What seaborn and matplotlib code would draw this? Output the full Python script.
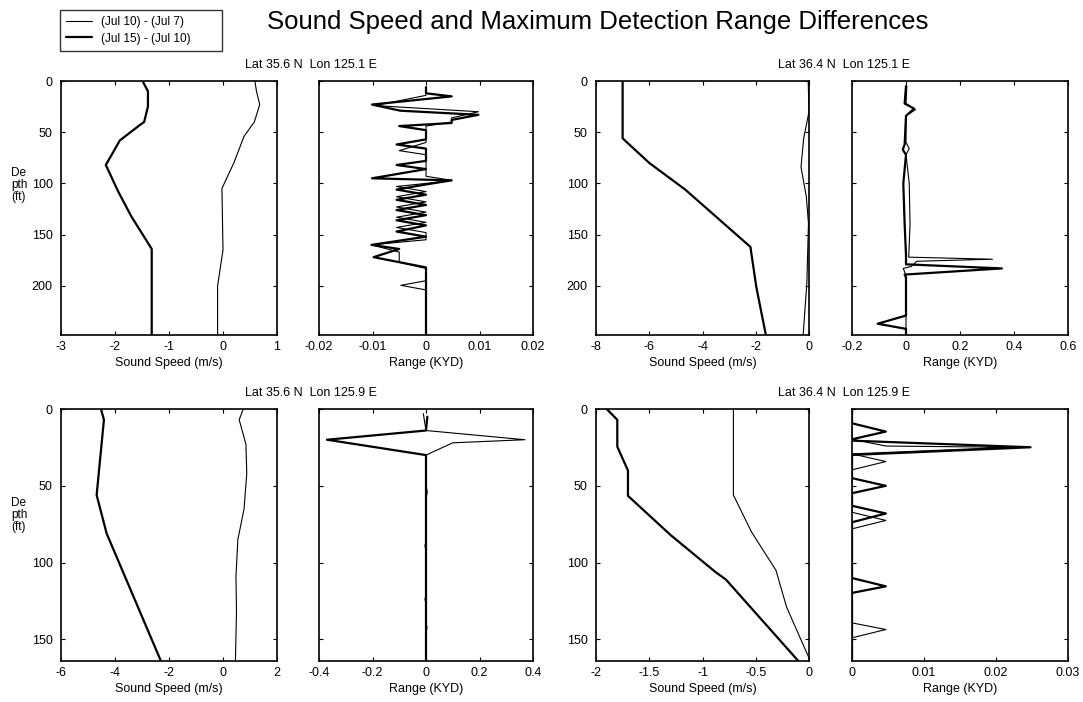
import numpy as np
import pandas as pd
import matplotlib.pyplot as plt
import seaborn as sns

# ---- values ----
label_thin = '(Jul 10) - (Jul 7)'
label_thick = '(Jul 15) - (Jul 10)'
station_titles = ['Lat 35.6 N  Lon 125.1 E', 'Lat 36.4 N  Lon 125.1 E',
                  'Lat 35.6 N  Lon 125.9 E', 'Lat 36.4 N  Lon 125.9 E']

# station 1 (Lat 35.6 N Lon 125.1 E) - sound speed difference (m/s)
s1_ss_thin_depth = [0, 10, 23, 40, 54, 80, 105, 165, 200, 248]
s1_ss_thin_val = [0.59, 0.62, 0.68, 0.58, 0.39, 0.2, -0.02, 0.0, -0.1, -0.1]
s1_ss_thick_depth = [0, 10, 25, 40, 43, 58, 82, 108, 132, 164, 248]
s1_ss_thick_val = [-1.49, -1.39, -1.39, -1.46, -1.54, -1.91, -2.17, -1.94, -1.70, -1.32, -1.32]
# station 1 - detection range difference (KYD)
s1_rng_thin_depth = [6, 14, 24, 30, 36, 40, 44, 60, 68, 72, 93, 97, 100, 103, 108, 113, 118,
                     123, 128, 133, 138, 143, 148, 155, 160, 167, 177, 183, 195, 199.5, 204, 248]
s1_rng_thin_val = [0.0, 0.0, -0.0095, 0.0098, 0.0048, 0.0048, 0.0, 0.0, -0.005, 0.0, 0.0, 0.0048, 0.0,
                   -0.0055, 0.0, -0.0055, 0.0, -0.0055, 0.0, -0.0055, 0.0, -0.0055, 0.0, 0.0,
                   -0.0102, -0.005, -0.005, 0.0, 0.0, -0.0047, 0.0, 0.0]
s1_rng_thick_depth = [6, 12, 15, 23, 29, 33, 38, 41, 44, 48, 57, 62, 66, 78, 82, 86, 95, 97, 101,
                      106, 111, 116, 121, 126, 131, 136, 141, 147, 152, 160, 164, 172, 182, 248]
s1_rng_thick_val = [0.0, 0.0, 0.0048, -0.0101, -0.0048, 0.0098, 0.0048, 0.0048, -0.005, 0.0, 0.0,
                    -0.0055, 0.0, 0.0, -0.0055, 0.0, -0.0101, 0.0048, 0.0, -0.0055, 0.0, -0.0055,
                    0.0, -0.0055, 0.0, -0.0055, 0.0, -0.0055, 0.0, -0.0102, -0.005, -0.0098, 0.0, 0.0]

# station 2 (Lat 36.4 N Lon 125.1 E)
s2_ss_thin_depth = [0, 30, 56, 84, 113, 139, 197, 248]
s2_ss_thin_val = [-0.03, 0.0, -0.2, -0.3, -0.1, -0.02, -0.08, -0.22]
s2_ss_thick_depth = [0, 56, 80, 106, 162, 201, 248]
s2_ss_thick_val = [-7.0, -7.0, -6.0, -4.65, -2.2, -1.98, -1.62]
s2_rng_thin_depth = [5, 22, 28, 34, 60, 66, 72, 100, 140, 172, 174, 176, 181, 183, 190, 248]
s2_rng_thin_val = [0.003, 0.0, 0.035, 0.0, 0.0, 0.012, 0.0, 0.012, 0.015, 0.01, 0.32, 0.04,
                   0.02, -0.01, 0.0, 0.0]
s2_rng_thick_depth = [5, 22, 27, 34, 62, 67, 72, 100, 140, 170, 179, 183, 189, 192, 229, 237, 242, 248]
s2_rng_thick_val = [0.0, -0.005, 0.03, 0.0, -0.005, -0.012, 0.0, -0.01, -0.005, 0.0, 0.0, 0.355,
                    -0.005, 0.0, 0.0, -0.105, 0.0, 0.0]

# station 3 (Lat 35.6 N Lon 125.9 E)
s3_ss_thin_depth = [0, 7, 23, 42, 65, 85, 109, 132, 164]
s3_ss_thin_val = [0.75, 0.6, 0.85, 0.88, 0.78, 0.55, 0.48, 0.5, 0.46]
s3_ss_thick_depth = [0, 7, 56, 81, 164]
s3_ss_thick_val = [-4.52, -4.41, -4.68, -4.31, -2.3]
s3_rng_thin_depth = [3, 14, 20, 22, 30, 50, 54, 58, 86, 89, 92, 121, 124, 127, 140, 142, 145, 164]
s3_rng_thin_val = [-0.01, 0.0, 0.37, 0.1, 0.0, 0.0, 0.005, 0.0, 0.0, -0.004, 0.0, 0.0, -0.004,
                   0.0, 0.0, 0.004, 0.0, 0.0]
s3_rng_thick_depth = [5, 14, 20, 30, 164]
s3_rng_thick_val = [0.005, 0.0, -0.37, 0.0, 0.0]

# station 4 (Lat 36.4 N Lon 125.9 E)
s4_ss_thin_depth = [0, 56, 80, 105, 129, 162, 164]
s4_ss_thin_val = [-0.71, -0.71, -0.54, -0.31, -0.21, 0.0, 0.0]
s4_ss_thick_depth = [0, 7, 24.5, 40, 56.5, 82, 106, 111, 164]
s4_ss_thick_val = [-1.9, -1.8, -1.8, -1.7, -1.7, -1.3, -0.88, -0.78, -0.1]
s4_rng_thin_depth = [0, 19.7, 24.1, 24.9, 29.2, 34.2, 39.6, 67.2, 72.5, 78, 139.2, 143.5, 148.9, 164]
s4_rng_thin_val = [0.0, 0.0, 0.0047, 0.022, 0.0, 0.0047, 0.0, 0.0, 0.0047, 0.0, 0.0, 0.0047, 0.0, 0.0]
s4_rng_thick_depth = [0, 9.3, 14.7, 19.7, 20.6, 24.9, 29.9, 45, 50, 54.8, 63, 68, 73.7,
                      110, 115.4, 119.7, 164]
s4_rng_thick_val = [0.0, 0.0, 0.0047, 0.0, 0.0, 0.0248, 0.0, 0.0, 0.0047, 0.0, 0.0, 0.0047, 0.0,
                    0.0, 0.0047, 0.0, 0.0]

# axis ticks / labels
ss_xticks = [[-3, -2, -1, 0, 1], [-8, -6, -4, -2, 0], [-6, -4, -2, 0, 2], [-2, -1.5, -1, -0.5, 0]]
ss_xticklabels = [['-3', '-2', '-1', '0', '1'], ['-8', '-6', '-4', '-2', '0'],
                  ['-6', '-4', '-2', '0', '2'], ['-2', '-1.5', '-1', '-0.5', '0']]
rng_xticks = [[-0.02, -0.01, 0, 0.01, 0.02], [-0.2, 0, 0.2, 0.4, 0.6],
              [-0.4, -0.2, 0, 0.2, 0.4], [0, 0.01, 0.02, 0.03]]
rng_xticklabels = [['-0.02', '-0.01', '0', '0.01', '0.02'], ['-0.2', '0', '0.2', '0.4', '0.6'],
                   ['-0.4', '-0.2', '0', '0.2', '0.4'], ['0', '0.01', '0.02', '0.03']]
depth_max = [248, 248, 164, 164]
depth_ticks = [[0, 50, 100, 150, 200], [0, 50, 100, 150, 200], [0, 50, 100, 150], [0, 50, 100, 150]]

# ---- plotting ----
sns.set_theme(style='ticks', rc={
    'xtick.direction': 'in', 'ytick.direction': 'in',
    'xtick.top': True, 'ytick.right': True,
    'xtick.major.size': 3, 'ytick.major.size': 3,
    'axes.linewidth': 1.2, 'axes.edgecolor': 'black',
    'xtick.labelsize': 9, 'ytick.labelsize': 9,
    'text.color': 'black', 'axes.labelcolor': 'black',
    'xtick.color': 'black', 'ytick.color': 'black',
})
plt.rcParams['font.family'] = ['Liberation Sans', 'DejaVu Sans']

W, H = 1083, 702
fig = plt.figure(figsize=(W / 100, H / 100), dpi=100)

col_left = [61, 319, 596, 852]
col_width = [216, 214, 213, 216]
row_top = [81, 409]
row_bottom = [335, 661]

ss_data = [
    (s1_ss_thin_depth, s1_ss_thin_val, s1_ss_thick_depth, s1_ss_thick_val),
    (s2_ss_thin_depth, s2_ss_thin_val, s2_ss_thick_depth, s2_ss_thick_val),
    (s3_ss_thin_depth, s3_ss_thin_val, s3_ss_thick_depth, s3_ss_thick_val),
    (s4_ss_thin_depth, s4_ss_thin_val, s4_ss_thick_depth, s4_ss_thick_val),
]
rng_data = [
    (s1_rng_thin_depth, s1_rng_thin_val, s1_rng_thick_depth, s1_rng_thick_val),
    (s2_rng_thin_depth, s2_rng_thin_val, s2_rng_thick_depth, s2_rng_thick_val),
    (s3_rng_thin_depth, s3_rng_thin_val, s3_rng_thick_depth, s3_rng_thick_val),
    (s4_rng_thin_depth, s4_rng_thin_val, s4_rng_thick_depth, s4_rng_thick_val),
]


def make_ax(col, row):
    left = col_left[col] / W
    bottom = 1 - row_bottom[row] / H
    height = (row_bottom[row] - row_top[row]) / H
    return fig.add_axes([left, bottom, col_width[col] / W, height])


def draw(ax, d_thin, v_thin, d_thick, v_thick):
    df_thin = pd.DataFrame({'depth': d_thin, 'val': v_thin})
    df_thick = pd.DataFrame({'depth': d_thick, 'val': v_thick})
    sns.lineplot(data=df_thin, x='val', y='depth', sort=False, estimator=None, color='black',
                 linewidth=0.8, ax=ax, legend=False, label=label_thin)
    sns.lineplot(data=df_thick, x='val', y='depth', sort=False, estimator=None, color='black',
                 linewidth=1.6, ax=ax, legend=False, label=label_thick)
    ax.set_xlabel('')
    ax.set_ylabel('')


handles = None
for i in range(4):
    row = i // 2
    c0 = (i % 2) * 2
    ax_ss = make_ax(c0, row)
    ax_rg = make_ax(c0 + 1, row)
    draw(ax_ss, *ss_data[i])
    draw(ax_rg, *rng_data[i])
    for ax in (ax_ss, ax_rg):
        ax.set_ylim(depth_max[i], 0)
        ax.set_yticks(depth_ticks[i])
    ax_ss.set_xlim(ss_xticks[i][0], ss_xticks[i][-1])
    ax_ss.set_xticks(ss_xticks[i])
    ax_ss.set_xticklabels(ss_xticklabels[i])
    ax_ss.set_xlabel('Sound Speed (m/s)', fontsize=9, labelpad=3)
    ax_rg.set_xlim(rng_xticks[i][0], rng_xticks[i][-1])
    ax_rg.set_xticks(rng_xticks[i])
    ax_rg.set_xticklabels(rng_xticklabels[i])
    ax_rg.set_xlabel('Range (KYD)', fontsize=9, labelpad=3)
    ax_rg.set_yticklabels([])
    for ax in (ax_ss, ax_rg):
        ax.tick_params(axis='x', pad=4, width=0.8)
        ax.tick_params(axis='y', pad=6, width=0.8)
    if handles is None:
        handles, labels = ax_ss.get_legend_handles_labels()
    # station title centred just left of the range panel
    fig.text((col_left[c0 + 1] - 8) / W, 1 - (row_top[row] - 16) / H, station_titles[i],
             ha='center', va='center', fontsize=9)

# depth labels on the left
for row, yc in enumerate([185, 515]):
    fig.text(11 / W, 1 - yc / H, 'De\npth\n(ft)', ha='left', va='center',
             fontsize=8.5, linespacing=1.0)

fig.text(598 / W, 1 - 22 / H, 'Sound Speed and Maximum Detection Range Differences',
         ha='center', va='center', fontsize=18.5)

leg = fig.legend(handles, labels, loc='upper left',
                 bbox_to_anchor=(60 / W, 1 - 50 / H, 162 / W, 40 / H), mode='expand',
                 frameon=True, fancybox=False, edgecolor='black', fontsize=8.5,
                 handlelength=2.2, borderpad=0.5, labelspacing=0.4, borderaxespad=0)
leg.get_frame().set_linewidth(1.0)

fig.savefig('out.png', dpi=100)
